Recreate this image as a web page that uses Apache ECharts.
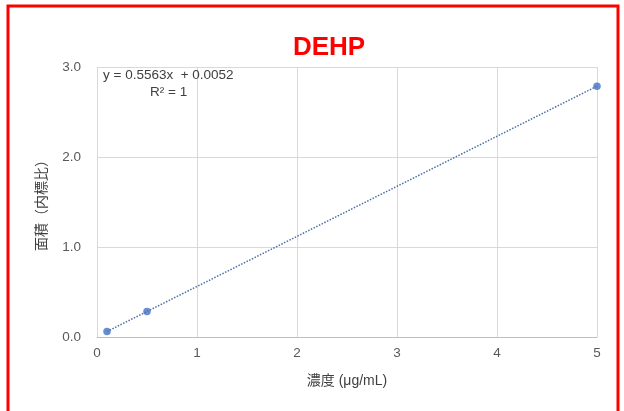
<!DOCTYPE html>
<html>
<head>
<meta charset="utf-8">
<script src="https://cdn.jsdelivr.net/npm/echarts@6/dist/echarts.min.js"></script>
<style>
  html, body { margin: 0; padding: 0; background: #fff; }
  #chart { width: 624px; height: 411px; }
</style>
</head>
<body>
<div id="chart"></div>
<script>
// Calibration standards: concentration (µg/mL) and area ratio to internal standard
const concentrations = [0.1, 0.5, 5];
const areaRatios = [0.061, 0.283, 2.787];

// Linear trendline end points
const trendX = [0.1, 5];
const trendY = [0.061, 2.787];

const equationText = 'y = 0.5563x  + 0.0052';
const rSquaredText = 'R² = 1';

const xTicks = [0, 1, 2, 3, 4, 5];
const yTicks = [0, 1, 2, 3];

const font = '"Liberation Sans", Arial, "Noto Sans CJK JP", sans-serif';

const chart = echarts.init(document.getElementById('chart'), null, { renderer: 'canvas' });

chart.setOption({
  animation: false,
  backgroundColor: '#ffffff',
  title: {
    text: 'DEHP',
    left: 324,
    top: 30,
    textAlign: 'center',
    textStyle: { color: '#ff0000', fontSize: 26, fontWeight: 'bold', fontFamily: font }
  },
  grid: { left: 97, right: 27, top: 67, bottom: 74 },
  xAxis: {
    type: 'value',
    min: xTicks[0],
    max: xTicks[xTicks.length - 1],
    interval: 1,
    name: '濃度 (μg/mL)',
    nameLocation: 'middle',
    nameGap: 37,
    nameTextStyle: { color: '#404040', fontSize: 14, fontFamily: font },
    axisLine: { show: true, lineStyle: { color: '#bfbfbf', width: 1 } },
    axisTick: { show: false },
    axisLabel: { color: '#595959', fontSize: 13.5, margin: 10, fontFamily: font },
    splitLine: { show: true, lineStyle: { color: '#d9d9d9', width: 1 } }
  },
  yAxis: {
    type: 'value',
    min: yTicks[0],
    max: yTicks[yTicks.length - 1],
    interval: 1,
    name: '面積（内標比）',
    nameLocation: 'middle',
    nameGap: 48,
    nameRotate: 90,
    nameTextStyle: { color: '#404040', fontSize: 14, fontFamily: font },
    axisLine: { show: false },
    axisTick: { show: false },
    axisLabel: {
      color: '#595959', fontSize: 13.5, margin: 16, fontFamily: font,
      formatter: v => v.toFixed(1)
    },
    splitLine: { show: true, lineStyle: { color: '#d9d9d9', width: 1 } }
  },
  series: [
    {
      name: 'trend',
      type: 'line',
      data: trendX.map((x, i) => [x, trendY[i]]),
      showSymbol: false,
      lineStyle: { color: '#4a6fa8', width: 1.5, type: [1.5, 1.5] },
      z: 2
    },
    {
      name: 'DEHP',
      type: 'scatter',
      data: concentrations.map((x, i) => [x, areaRatios[i]]),
      symbolSize: 7.5,
      itemStyle: { color: '#4472c4' },
      z: 3
    }
  ],
  graphic: [
    {
      type: 'rect',
      shape: { x: 8, y: 6, width: 610, height: 420 },
      style: { fill: 'none', stroke: '#ff0000', lineWidth: 3 },
      z: 10
    },
    {
      type: 'text',
      left: 103,
      top: 69,
      style: { text: equationText, fill: '#404040', fontSize: 13.5, fontFamily: font },
      z: 5
    },
    {
      type: 'text',
      left: 150,
      top: 86,
      style: { text: rSquaredText, fill: '#404040', fontSize: 13.5, fontFamily: font },
      z: 5
    }
  ]
});
</script>
</body>
</html>
